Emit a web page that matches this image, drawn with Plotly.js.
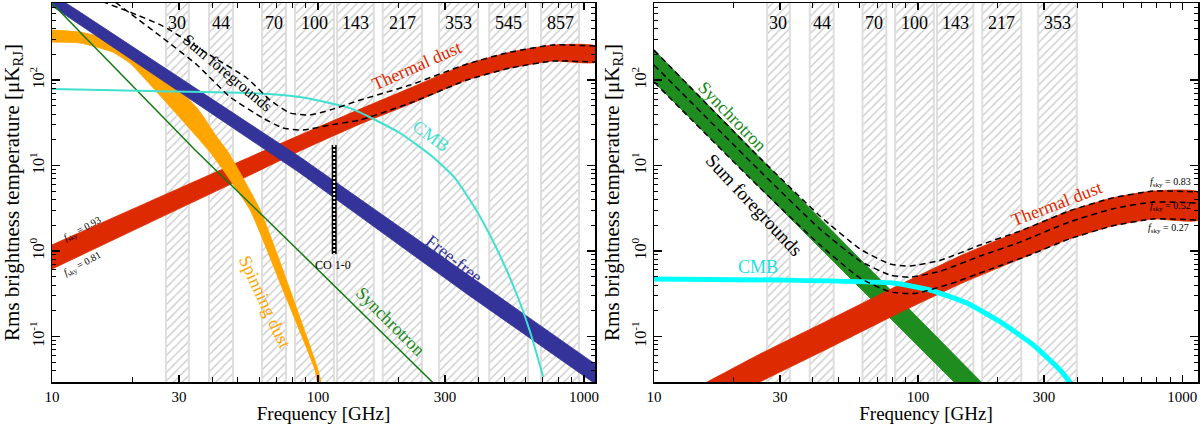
<!DOCTYPE html>
<html>
<head>
<meta charset="utf-8">
<script src="https://cdn.plot.ly/plotly-3.0.1.min.js"></script>
<style>
  html, body { margin: 0; padding: 0; background: #fff; }
  #chartBox { width: 1200px; height: 424px; }
</style>
</head>
<body>
<div id="chartBox"></div>
<script>
// Planck frequency channels [GHz], hatched bands
const bandNames = ['30', '44', '70', '100', '143', '217', '353', '545', '857'];
const bandLo = [26.8, 38.9, 61.6, 81.9, 117.9, 175, 285, 440, 689];
const bandHi = [32.7, 47.9, 75.8, 114.8, 162, 246, 399, 615, 957];
const polBandCount = 7; // polarisation panel only goes up to 353

// ---- left panel: temperature (uK_RJ) ----
const dustNu = [10, 23.3, 55.5, 85.5, 144, 222, 363, 527, 764, 1100];
const dustHiT = [1.18, 3.8, 12.6, 22.7, 45.8, 80.6, 154, 212, 257, 250];
const dustLoT = [0.616, 2.15, 7.74, 14.8, 30.6, 52.4, 100, 138, 167, 162];

const ffNu = [10, 12.74, 85.5, 363, 1100];
const ffHiT = [1014, 624, 12.6, 0.538, 0.0477];
const ffLoT = [733, 440, 8.17, 0.314, 0.028];

const spinHiNu = [10, 12.74, 16.9, 19.6, 26.1, 35.1, 41.7, 45.9, 60.6, 78.5, 100, 103.5];
const spinHiT = [384, 364, 294, 237, 117, 47.1, 21.5, 14.4, 3.02, 0.35, 0.0406, 0.0237];
const spinLoNu = [10, 12.74, 16.9, 19.6, 28.5, 35.1, 40, 55.5, 73.8, 97.4, 100.9];
const spinLoT = [278, 271, 212, 158, 44.6, 21.5, 13.3, 3.02, 0.35, 0.0406, 0.0237];

const syncNu = [10, 12.74, 34.5, 85.5, 264, 313];
const syncT = [794, 364, 15.2, 0.973, 0.031, 0.0181];

const cmbNu = [10, 23.3, 55.5, 85.5, 132, 203, 270, 327, 389, 462, 550, 627, 702];
const cmbT = [78.5, 74.3, 70.5, 63.3, 47, 24, 12.6, 7.14, 3.18, 1.18, 0.35, 0.113, 0.0337];

const sumHiNu = [13.3, 15.0, 19.6, 26.1, 40.3, 54.1, 66, 78.5, 93.3, 111, 144, 222, 363, 527, 764, 1100];
const sumHiT = [1069, 863, 624, 428, 186, 105, 58.3, 41.1, 39, 44.6, 58.3, 87.5, 154, 212, 257, 250];
const sumLoNu = [15.16, 16.9, 19.6, 26.1, 35.1, 46.7, 62.1, 73.8, 87.8, 111, 144, 222, 363, 527, 764, 1100];
const sumLoT = [1130, 863, 608, 310, 150, 63.3, 35.9, 27.5, 26, 29.8, 34.1, 53.8, 100, 138, 167, 162];

const coNu = [115, 115];
const coT = [17.4, 0.92];

// ---- right panel: polarisation ----
const pSyncNu = [10, 30, 100, 200];
const pSyncHiT = [224, 7.16, 0.165, 0.0188];
const pSyncLoT = [94.8, 3.18, 0.0774, 0.0091];

const pDustNu = [12.5, 15.9, 25.2, 45.2, 80.3, 146.8, 243, 373, 543, 776, 1151];
const pDustHiT = [0.0201, 0.0294, 0.0624, 0.152, 0.369, 0.898, 1.71, 2.94, 4.17, 5.03, 4.90];
const pDustMidT = [0.015, 0.0218, 0.0465, 0.113, 0.275, 0.668, 1.27, 2.18, 3.10, 3.74, 3.64];
const pDustLoT = [0.0095, 0.0138, 0.0294, 0.0714, 0.174, 0.422, 0.806, 1.38, 1.96, 2.37, 2.30];

const pCmbNu = [10, 30, 80.3, 111, 153, 205, 273, 345, 383];
const pCmbT = [0.471, 0.458, 0.422, 0.350, 0.246, 0.148, 0.0796, 0.0406, 0.0271];

const pSumNu = [10, 25.2, 42.5, 60.3, 78.3, 93.3, 121, 172, 243, 373, 543, 776, 1151];
const pSumHiT = [224, 12.2, 2.57, 1.055, 0.705, 0.668, 0.776, 1.175, 1.71, 2.94, 4.17, 5.03, 4.90];
const pSumMidT = [150, 8.62, 1.81, 0.764, 0.524, 0.495, 0.578, 0.874, 1.27, 2.18, 3.10, 3.74, 3.64];
const pSumLoNu = [10, 25.2, 42.5, 60.3, 78.3, 97.5, 132, 187, 265, 373, 543, 776, 1151];
const pSumLoT = [94.8, 5.46, 1.18, 0.483, 0.332, 0.319, 0.412, 0.61, 0.9, 1.38, 1.96, 2.37, 2.30];

// axis ticks
const xTickVals = [10, 30, 100, 300, 1000];
const xTickText = ['10', '30', '100', '300', '1000'];
const xMinor = [20, 40, 50, 60, 70, 80, 90, 200, 400, 500, 600, 700, 800, 900];
const yTickVals = [0.1, 1, 10, 100];
const yTickText = ['10<sup>-1</sup>', '10<sup>0</sup>', '10<sup>1</sup>', '10<sup>2</sup>'];
const yMinor = [0.04, 0.05, 0.06, 0.07, 0.08, 0.09, 0.2, 0.3, 0.4, 0.5, 0.6, 0.7, 0.8, 0.9,
  2, 3, 4, 5, 6, 7, 8, 9, 20, 30, 40, 50, 60, 70, 80, 90, 200, 300, 400, 500, 600, 700];

const serif = 'Liberation Serif, Times New Roman, serif';
const RED = '#dd2a00', NAVY = '#333399', ORANGE = '#ffa500';

// plot box in pixels, used for text placement
const L = 52, W = 1146, T0 = 3, B0 = 382;
function P(px, py) { return { x: (px - L) / W, y: (B0 - py) / (B0 - T0) }; }

const traces = [];

function band(nuHi, hi, nuLo, lo, color, xa, ya, shape) {
  return {
    x: nuHi.concat(nuLo.slice().reverse()), y: hi.concat(lo.slice().reverse()),
    xaxis: xa, yaxis: ya, mode: 'lines', fill: 'toself', fillcolor: color,
    line: { color: color, width: 0.8, shape: shape, smoothing: 0.5 },
    hoverinfo: 'skip', showlegend: false
  };
}
function line(nu, t, color, width, dash, xa, ya, shape) {
  return {
    x: nu, y: t, xaxis: xa, yaxis: ya, mode: 'lines',
    line: { color: color, width: width, dash: dash || 'solid', shape: shape || 'spline', smoothing: 0.5 },
    hoverinfo: 'skip', showlegend: false
  };
}

// hatched frequency bands
function addBands(count, xa, ya) {
  for (let i = 0; i < count; i++) {
    traces.push({
      x: [bandLo[i], bandHi[i], bandHi[i], bandLo[i], bandLo[i]],
      y: [0.001, 0.001, 5000, 5000, 0.001],
      xaxis: xa, yaxis: ya, mode: 'lines', fill: 'toself',
      fillpattern: { shape: '/', fgcolor: '#c9c9c9', bgcolor: '#ffffff', size: 6, solidity: 0.22 },
      line: { color: '#dedede', width: 2 },
      hoverinfo: 'skip', showlegend: false
    });
  }
}
addBands(bandNames.length, 'x', 'y');
addBands(polBandCount, 'x2', 'y2');

// left panel
traces.push(band(dustNu, dustHiT, dustNu, dustLoT, RED, 'x', 'y', 'spline'));
traces.push(band(spinHiNu, spinHiT, spinLoNu, spinLoT, ORANGE, 'x', 'y', 'spline'));
traces.push(band(ffNu, ffHiT, ffNu, ffLoT, NAVY, 'x', 'y', 'linear'));
traces.push(line(syncNu, syncT, '#117a11', 1.5, null, 'x', 'y', 'linear'));
traces.push(line(cmbNu, cmbT, '#40e0d0', 2, null, 'x', 'y'));
traces.push(line(sumHiNu, sumHiT, 'black', 1.5, '6px,4px', 'x', 'y'));
traces.push(line(sumLoNu, sumLoT, 'black', 1.5, '6px,4px', 'x', 'y'));
traces.push({ x: coNu, y: coT, mode: 'lines', line: { color: 'black', width: 5 }, hoverinfo: 'skip', showlegend: false });
traces.push({ x: coNu, y: coT, mode: 'lines', line: { color: 'white', width: 2, dash: '2px,2px' }, hoverinfo: 'skip', showlegend: false });

// right panel
traces.push(band(pSyncNu, pSyncHiT, pSyncNu, pSyncLoT, '#1f8c1f', 'x2', 'y2', 'linear'));
traces.push(band(pDustNu, pDustHiT, pDustNu, pDustLoT, RED, 'x2', 'y2', 'spline'));
traces.push(line(pCmbNu, pCmbT, '#00ffff', 5, null, 'x2', 'y2'));
traces.push(line(pSumNu, pSumHiT, 'black', 1.5, '6px,4px', 'x2', 'y2'));
traces.push(line(pSumNu, pSumMidT, 'black', 1.5, '6px,4px', 'x2', 'y2'));
traces.push(line(pSumLoNu, pSumLoT, 'black', 1.5, '6px,4px', 'x2', 'y2'));

function xAxis(domain, range, anchor) {
  return {
    type: 'log', domain: domain, range: range, anchor: anchor,
    showgrid: false, zeroline: false, showline: true, linecolor: 'black', linewidth: 1.5,
    mirror: 'allticks', ticks: 'inside', ticklen: 7, tickwidth: 1.2, tickcolor: 'black',
    tickmode: 'array', tickvals: xTickVals, ticktext: xTickText,
    minor: { ticks: 'inside', ticklen: 5, tickwidth: 1, tickcolor: 'black', tickmode: 'array', tickvals: xMinor },
    tickfont: { family: serif, size: 15, color: 'black' },
    title: { text: 'Frequency [GHz]', font: { family: serif, size: 19, color: 'black' }, standoff: 5 }
  };
}
function yAxis(anchor) {
  return {
    type: 'log', domain: [0, 1], range: [-1.532, 2.901], anchor: anchor,
    showgrid: false, zeroline: false, showline: true, linecolor: 'black', linewidth: 1.5,
    mirror: 'allticks', ticks: 'inside', ticklen: 8, tickwidth: 1.2, tickcolor: 'black',
    tickmode: 'array', tickvals: yTickVals, ticktext: yTickText, tickangle: -90,
    minor: { ticks: 'inside', ticklen: 4, tickwidth: 1, tickcolor: 'black', tickmode: 'array', tickvals: yMinor },
    tickfont: { family: serif, size: 16, color: 'black' },
    title: { text: 'Rms brightness temperature [\u03bcK<sub>RJ</sub>]', font: { family: serif, size: 21, color: 'black' }, standoff: 4 }
  };
}

const annotations = [];
function note(text, px, py, angle, size, color) {
  const p = P(px, py);
  annotations.push({
    text: text, x: p.x, y: p.y, xref: 'paper', yref: 'paper', showarrow: false,
    textangle: angle, xanchor: 'center', yanchor: 'middle',
    font: { family: serif, size: size, color: color }
  });
}
// band labels
bandNames.forEach((name, i) => {
  const xc = Math.log10(Math.sqrt(bandLo[i] * bandHi[i]));
  annotations.push({ text: name, x: xc, y: 0.947, xref: 'x', yref: 'paper', showarrow: false,
    xanchor: 'center', yanchor: 'middle', font: { family: serif, size: 18, color: 'black' } });
  if (i < polBandCount) {
    annotations.push({ text: name, x: xc, y: 0.947, xref: 'x2', yref: 'paper', showarrow: false,
      xanchor: 'center', yanchor: 'middle', font: { family: serif, size: 18, color: 'black' } });
  }
});
note('Sum foregrounds', 227, 73, 40, 16, 'black');
note('Thermal dust', 416, 66, -24, 18, RED);
note('CMB', 431, 136, 36, 18, '#40e0d0');
note('Free-free', 454, 259, 38, 18, NAVY);
note('Synchrotron', 390, 321, 45, 18, '#1a8a1a');
note('Spinning dust', 265, 302, 65, 18, ORANGE);
note('CO 1-0', 333, 265, 0, 12, 'black');
note('<i>f</i><sub>sky</sub> = 0.93', 82, 229, -28, 10, 'black');
note('<i>f</i><sub>sky</sub> = 0.81', 82, 264, -28, 10, 'black');

note('Synchrotron', 732, 116, 46, 18, '#1a8a1a');
note('Sum foregrounds', 754, 204, 47, 19, 'black');
note('CMB', 758, 267, 0, 18, '#22dede');
note('Thermal dust', 1056, 204, -21, 18, RED);
note('<i>f</i><sub>sky</sub> = 0.83', 1170, 182, 0, 10, 'black');
note('<i>f</i><sub>sky</sub> = 0.52', 1170, 206, 0, 10, 'black');
note('<i>f</i><sub>sky</sub> = 0.27', 1168, 228, 0, 10, 'black');

const layout = {
  width: 1200, height: 424,
  margin: { l: L, r: 2, t: T0, b: 424 - B0 },
  paper_bgcolor: 'white', plot_bgcolor: 'white',
  font: { family: serif },
  xaxis: xAxis([0, 543 / W], [1, 3.041], 'y'),
  yaxis: yAxis('x'),
  xaxis2: xAxis([602 / W, 1], [1, 3.06], 'y2'),
  yaxis2: yAxis('x2'),
  annotations: annotations,
  showlegend: false
};

Plotly.newPlot('chartBox', traces, layout, { staticPlot: true });
</script>
</body>
</html>
